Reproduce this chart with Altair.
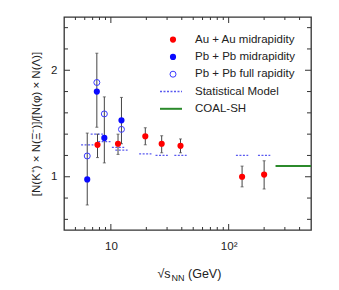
import altair as alt
import pandas as pd

# ---- data ----
# Au + Au midrapidity
au_x = [7.7, 11.5, 19.6, 27, 39, 130, 200]
au_y = [1.30, 1.31, 1.38, 1.31, 1.29, 1.00, 1.02]
au_lo = [1.18, 1.21, 1.30, 1.225, 1.225, 0.905, 0.885]
au_hi = [1.40, 1.40, 1.46, 1.385, 1.355, 1.10, 1.15]

# Pb + Pb midrapidity
pb_x = [6.3, 7.6, 8.8, 12.3]
pb_y = [0.975, 1.80, 1.365, 1.53]
pb_lo = [0.735, 1.465, 1.13, 1.31]
pb_hi = [1.41, 2.16, 1.75, 1.745]

# Pb + Pb full rapidity
pbf_x = [6.3, 7.6, 8.8, 12.3]
pbf_y = [1.195, 1.885, 1.59, 1.445]

# Statistical model
sm_x = [6.3, 7.6, 8.8, 11.5, 12.3, 19.6, 27, 39, 130, 200]
sm_y = [1.30, 1.40, 1.33, 1.275, 1.25, 1.215, 1.20, 1.20, 1.20, 1.20]

# COAL-SH
coal_x1 = [250]
coal_x2 = [500]
coal_y = [1.10]

x_major = [10, 100]
x_minor = [5, 6, 7, 8, 9, 20, 30, 40, 50, 60, 70, 80, 90, 200, 300, 400]
y_major = [1, 2]
y_minor = [0.6, 0.8, 1.2, 1.4, 1.6, 1.8, 2.2, 2.4]

legend_labels = ["Au + Au midrapidity", "Pb + Pb midrapidity", "Pb + Pb full rapidity",
                 "Statistical Model", "COAL-SH"]

W, H = 247, 213
FONT = "Liberation Sans"
TXT = "#222222"

xs = alt.Scale(type="log", domain=[4, 500], nice=False)
ys = alt.Scale(domain=[0.5, 2.5], nice=False, zero=False)
XA = alt.Axis(values=x_major, labelExpr="datum.value == 10 ? '10' : '10²'", title=None)
YA = alt.Axis(values=y_major, format="d", title="[N(K⁺) × N(Ξ⁻)]/[N(φ) × N(Λ)]",
              titleX=-28, titleY=H / 2, titleAngle=270, titleBaseline="middle",
              titleAlign="center")

au = pd.DataFrame({"x": au_x, "y": au_y, "lo": au_lo, "hi": au_hi})
pb = pd.DataFrame({"x": pb_x, "y": pb_y, "lo": pb_lo, "hi": pb_hi})
pbf = pd.DataFrame({"x": pbf_x, "y": pbf_y})
sm = pd.DataFrame({"x": sm_x, "y": sm_y})
coal = pd.DataFrame({"x1": coal_x1, "x2": coal_x2, "y": coal_y})
err = pd.concat([au, pb], ignore_index=True)
caps = pd.concat([err[["x", "lo"]].rename(columns={"lo": "c"}),
                  err[["x", "hi"]].rename(columns={"hi": "c"})], ignore_index=True)

def X(f):
    return alt.X(f, scale=xs, axis=XA)

def Y(f):
    return alt.Y(f, scale=ys, axis=YA)

layers = []

# statistical model segments
layers.append(
    alt.Chart(sm).transform_calculate(x1="datum.x / 1.128", x2="datum.x * 1.128")
    .mark_rule(color="#5a5af0", strokeWidth=1.3, strokeDash=[2, 1.5])
    .encode(x=X("x1:Q"), x2="x2:Q", y=Y("y:Q"))
)
# COAL-SH
layers.append(
    alt.Chart(coal).mark_rule(color="#2b8a2b", strokeWidth=2)
    .encode(x=X("x1:Q"), x2="x2:Q", y=Y("y:Q"))
)
# error bars
layers.append(
    alt.Chart(err).mark_rule(color="#444444", strokeWidth=1)
    .encode(x=X("x:Q"), y=Y("lo:Q"), y2="hi:Q")
)
layers.append(
    alt.Chart(caps).mark_tick(orient="horizontal", size=3, thickness=1, color="#444444")
    .encode(x=X("x:Q"), y=Y("c:Q"))
)
# points
layers.append(
    alt.Chart(au).mark_circle(color="#ff0000", size=38, opacity=1)
    .encode(x=X("x:Q"), y=Y("y:Q"))
)
layers.append(
    alt.Chart(pb).mark_circle(color="#0a0aff", size=38, opacity=1)
    .encode(x=X("x:Q"), y=Y("y:Q"))
)
layers.append(
    alt.Chart(pbf).mark_point(shape="circle", filled=False, color="#3b3bff", size=36,
                              strokeWidth=1, opacity=1)
    .encode(x=X("x:Q"), y=Y("y:Q"))
)

# inward ticks on all four sides
for vals, ln in [(x_major, 6), (x_minor, 3)]:
    d = pd.DataFrame({"v": vals})
    layers.append(alt.Chart(d).mark_rule(color="#333333", strokeWidth=1)
                  .encode(x=X("v:Q"), y=alt.value(H), y2=alt.value(H - ln)))
    layers.append(alt.Chart(d).mark_rule(color="#333333", strokeWidth=1)
                  .encode(x=X("v:Q"), y=alt.value(0), y2=alt.value(ln)))
for vals, ln in [(y_major, 6), (y_minor, 4)]:
    d = pd.DataFrame({"v": vals})
    layers.append(alt.Chart(d).mark_rule(color="#333333", strokeWidth=1)
                  .encode(y=Y("v:Q"), x=alt.value(0), x2=alt.value(ln)))
    layers.append(alt.Chart(d).mark_rule(color="#333333", strokeWidth=1)
                  .encode(y=Y("v:Q"), x=alt.value(W), x2=alt.value(W - ln)))

# legend
one = pd.DataFrame({"a": [0]})
row_y = [22.6 + i * 17.3 for i in range(5)]
layers.append(alt.Chart(one).mark_circle(color="#ff0000", size=38, opacity=1)
              .encode(x=alt.value(109), y=alt.value(row_y[0])))
layers.append(alt.Chart(one).mark_circle(color="#0a0aff", size=38, opacity=1)
              .encode(x=alt.value(109), y=alt.value(row_y[1])))
layers.append(alt.Chart(one).mark_point(shape="circle", filled=False, color="#3b3bff",
                                        size=36, strokeWidth=1, opacity=1)
              .encode(x=alt.value(109), y=alt.value(row_y[2])))
layers.append(alt.Chart(one).mark_rule(color="#5a5af0", strokeWidth=1.3, strokeDash=[2, 1.5])
              .encode(x=alt.value(96), x2=alt.value(118), y=alt.value(row_y[3])))
layers.append(alt.Chart(one).mark_rule(color="#2b8a2b", strokeWidth=2)
              .encode(x=alt.value(96), x2=alt.value(118), y=alt.value(row_y[4])))
for i, lab in enumerate(legend_labels):
    layers.append(alt.Chart(one).mark_text(text=lab, align="left", baseline="middle",
                                           font=FONT, fontSize=11.5, color=TXT)
                  .encode(x=alt.value(131), y=alt.value(row_y[i])))

# x title: sqrt(s_NN) (GeV)
layers.append(alt.Chart(one).mark_text(text="√s", align="left", baseline="alphabetic",
                                       font=FONT, fontSize=12.5, color=TXT)
              .encode(x=alt.value(93.5), y=alt.value(H + 48)))
layers.append(alt.Chart(one).mark_text(text="NN", align="left", baseline="alphabetic",
                                       font=FONT, fontSize=9, color=TXT)
              .encode(x=alt.value(107.5), y=alt.value(H + 51)))
layers.append(alt.Chart(one).mark_text(text="(GeV)", align="left", baseline="alphabetic",
                                       font=FONT, fontSize=12.5, color=TXT)
              .encode(x=alt.value(124), y=alt.value(H + 48)))

chart = (
    alt.layer(*layers)
    .properties(width=W, height=H,
                autosize=alt.AutoSizeParams(type="none"),
                padding={"left": 56, "top": 9, "right": 20, "bottom": 52})
    .configure_view(stroke="#333333", strokeWidth=1.3)
    .configure_axis(ticks=False, domain=False, grid=False, labelFont=FONT,
                    labelFontSize=11.5, labelColor=TXT, titleFont=FONT,
                    titleFontSize=11.5, titleColor=TXT, titleFontWeight="normal")
    .configure_axisX(labelPadding=10)
    .configure_axisY(labelPadding=7)
)

chart.save("out.html", embed_options={"renderer": "svg", "actions": False})
